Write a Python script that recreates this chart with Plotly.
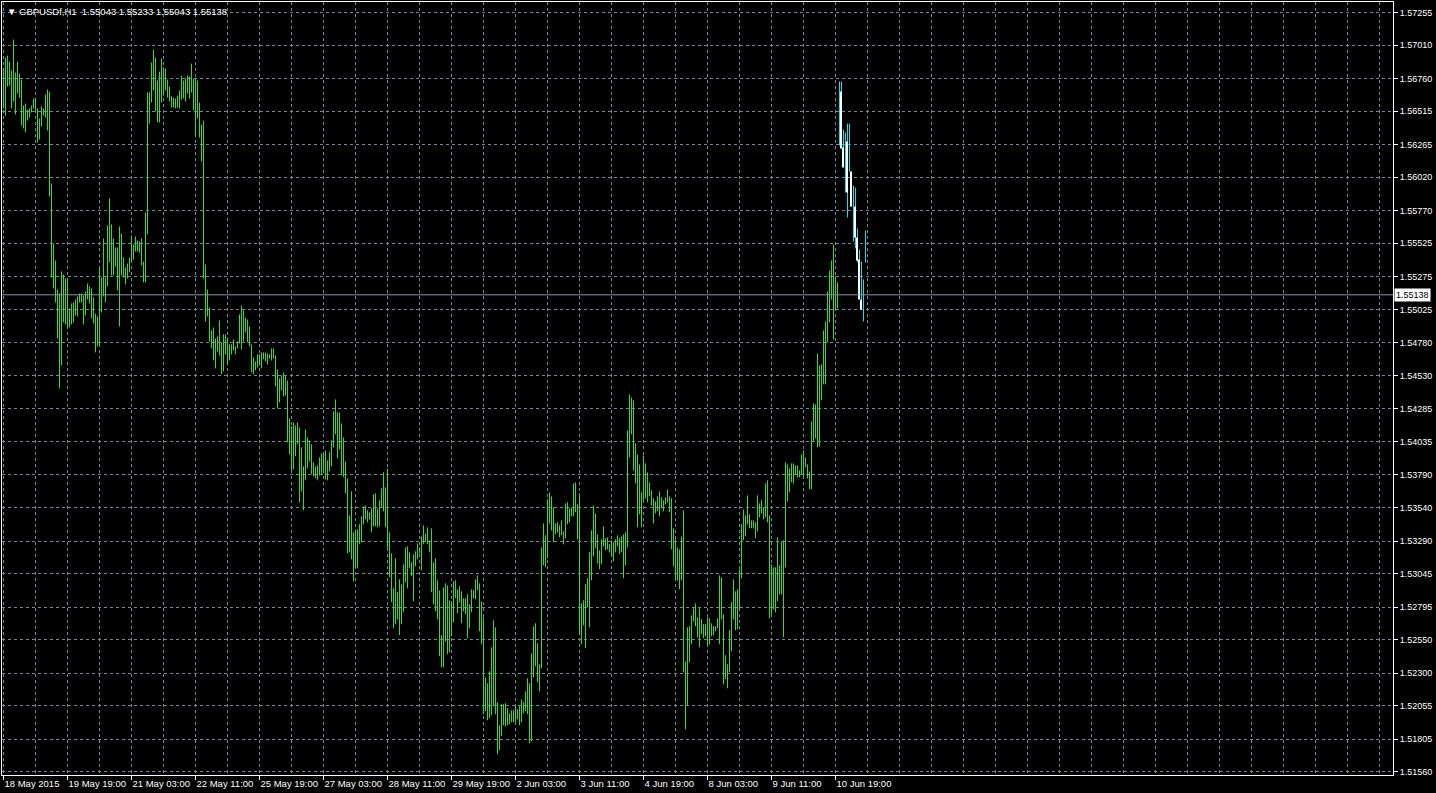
import plotly.graph_objects as go

# ---------------- data (GBPUSDf, H1) ----------------
# hourly bars starting 18 May 2015 11:00 (bar index 0)
highs = [
    1.56836, 1.56918, 1.56933, 1.56888, 1.56821, 1.57053, 1.56806, 1.56888, 1.56798, 1.56753,
    1.56558, 1.56573, 1.56528, 1.56536, 1.56558, 1.56611, 1.56618, 1.56536, 1.56461, 1.56551,
    1.56536, 1.56641, 1.56678, 1.56663, 1.55973, 1.55523, 1.55396, 1.55178, 1.55148, 1.55313,
    1.55291, 1.55261, 1.55261, 1.55036, 1.55073, 1.55081, 1.55103, 1.55126, 1.55148, 1.55148,
    1.55133, 1.55163, 1.55223, 1.55201, 1.55186, 1.55118, 1.54998, 1.54976, 1.55336, 1.55268,
    1.55561, 1.55268, 1.55658, 1.55861, 1.55666, 1.55561, 1.55493, 1.55493, 1.55651, 1.55598,
    1.55418, 1.55343, 1.55373, 1.55418, 1.55583, 1.55516, 1.55576, 1.55546, 1.55538, 1.55561,
    1.55388, 1.55756, 1.56656, 1.56656, 1.56881, 1.56978, 1.56918, 1.56746, 1.56813, 1.56911,
    1.56843, 1.56836, 1.56753, 1.56701, 1.56626, 1.56618, 1.56611, 1.56633, 1.56671, 1.56783,
    1.56746, 1.56761, 1.56783, 1.56776, 1.56873, 1.56761, 1.56761, 1.56746, 1.56581, 1.56416,
    1.56446, 1.55366, 1.55178, 1.55043, 1.54871, 1.54893, 1.54811, 1.54826, 1.54946, 1.54781,
    1.54841, 1.54841, 1.54818, 1.54766, 1.54766, 1.54803, 1.54751, 1.54788, 1.54991, 1.55058,
    1.55021, 1.54968, 1.54953, 1.54901, 1.54766, 1.54668, 1.54638, 1.54691, 1.54691, 1.54706,
    1.54706, 1.54706, 1.54698, 1.54691, 1.54736, 1.54736, 1.54683, 1.54578, 1.54511, 1.54533,
    1.54556, 1.54533, 1.54496, 1.54211, 1.54151, 1.54181, 1.54158, 1.54181, 1.54143, 1.53993,
    1.53851, 1.54128, 1.54068, 1.54046, 1.54016, 1.53881, 1.53851, 1.53858, 1.53918, 1.53948,
    1.53941, 1.53971, 1.53896, 1.53956, 1.54046, 1.54263, 1.54353, 1.54256, 1.54256, 1.54173,
    1.54068, 1.53888, 1.53761, 1.53483, 1.53663, 1.53356, 1.53378, 1.53378, 1.53416, 1.53476,
    1.53551, 1.53558, 1.53521, 1.53506, 1.53536, 1.53641, 1.53648, 1.53536, 1.53596, 1.53686,
    1.53806, 1.53693, 1.53836, 1.53356, 1.53198, 1.52936, 1.53161, 1.52906, 1.53003, 1.52966,
    1.53116, 1.53243, 1.53251, 1.53206, 1.53131, 1.53191, 1.53213, 1.53273, 1.53243, 1.53326,
    1.53408, 1.53348, 1.53393, 1.53296, 1.53386, 1.53131, 1.53161, 1.52996, 1.52921, 1.52583,
    1.52943, 1.52973, 1.52958, 1.52846, 1.52838, 1.52988, 1.52996, 1.52928, 1.52951, 1.52913,
    1.52861, 1.52861, 1.52891, 1.52816, 1.52928, 1.52921, 1.53003, 1.53033, 1.52973, 1.52838,
    1.52718, 1.52268, 1.52223, 1.52313, 1.52493, 1.52696, 1.52643, 1.52081, 1.51908, 1.52066,
    1.52066, 1.52073, 1.52036, 1.51998, 1.52021, 1.52021, 1.52051, 1.52028, 1.52051, 1.52103,
    1.52081, 1.52163, 1.52261, 1.52223, 1.52448, 1.52651, 1.52673, 1.52523, 1.52366, 1.53243,
    1.53423, 1.53333, 1.53603, 1.53656, 1.53626, 1.53543, 1.53423, 1.53431, 1.53408, 1.53446,
    1.53363, 1.53573, 1.53581, 1.53536, 1.53543, 1.53723, 1.53731, 1.53566, 1.53648, 1.52823,
    1.52846, 1.52966, 1.53011, 1.53206, 1.53371, 1.53558, 1.53498, 1.53341, 1.53221, 1.53303,
    1.53401, 1.53311, 1.53318, 1.53266, 1.53296, 1.53281, 1.53303, 1.53333, 1.53311, 1.53326,
    1.53341, 1.53356, 1.54121, 1.54391, 1.54368, 1.54346, 1.54023, 1.53941, 1.53866, 1.53656,
    1.53933, 1.53873, 1.53806, 1.53731, 1.53671, 1.53611, 1.53588, 1.53626, 1.53663, 1.53618,
    1.53596, 1.53618, 1.53678, 1.53626, 1.53611, 1.53386, 1.53303, 1.53243, 1.53228, 1.53326,
    1.53521, 1.52388, 1.52643, 1.52651, 1.52733, 1.52786, 1.52823, 1.52718, 1.52786, 1.52703,
    1.52666, 1.52666, 1.52718, 1.52711, 1.52673, 1.52651, 1.52651, 1.52711, 1.53033, 1.53018,
    1.52741, 1.52433, 1.52366, 1.52621, 1.52831, 1.53003, 1.52913, 1.52928, 1.53078, 1.53416,
    1.53528, 1.53483, 1.53633, 1.53491, 1.53446, 1.53446, 1.53431, 1.53633, 1.53573, 1.53596,
    1.53543, 1.53723, 1.53746, 1.53483, 1.53116, 1.53093, 1.53093, 1.53318, 1.53108, 1.53288,
    1.53296, 1.53881, 1.53866, 1.53836, 1.53873, 1.53873, 1.53858, 1.53858, 1.53821, 1.53941,
    1.53971, 1.53918, 1.53866, 1.53813, 1.54188, 1.54323, 1.54316, 1.54698, 1.54608, 1.54616,
    1.54871, 1.54938, 1.55163, 1.55321, 1.55396, 1.55516, 1.55276, 1.55231,
]

lows = [
    1.56536, 1.56483, 1.56701, 1.56708, 1.56536, 1.56588, 1.56491, 1.56648, 1.56618, 1.56408,
    1.56386, 1.56356, 1.56446, 1.56468, 1.56506, 1.56536, 1.56513, 1.56281, 1.56303, 1.56401,
    1.56483, 1.56468, 1.56371, 1.55876, 1.55268, 1.55186, 1.55081, 1.54811, 1.54436, 1.54608,
    1.54931, 1.54916, 1.54886, 1.54893, 1.54916, 1.54931, 1.54983, 1.54976, 1.55081, 1.55081,
    1.54916, 1.54983, 1.55103, 1.55073, 1.54961, 1.54923, 1.54706, 1.54751, 1.54758, 1.55006,
    1.55126, 1.55081, 1.55201, 1.55381, 1.55283, 1.55283, 1.55351, 1.55171, 1.54901, 1.55283,
    1.55268, 1.55216, 1.55261, 1.55306, 1.55388, 1.55403, 1.55463, 1.55463, 1.55456, 1.55358,
    1.55231, 1.55231, 1.55591, 1.56423, 1.56581, 1.56671, 1.56513, 1.56431, 1.56431, 1.56581,
    1.56633, 1.56671, 1.56618, 1.56588, 1.56543, 1.56543, 1.56536, 1.56543, 1.56536, 1.56603,
    1.56611, 1.56588, 1.56648, 1.56611, 1.56656, 1.56521, 1.56326, 1.56461, 1.56318, 1.56138,
    1.55261, 1.54938, 1.54976, 1.54788, 1.54736, 1.54646, 1.54586, 1.54713, 1.54683, 1.54541,
    1.54563, 1.54691, 1.54616, 1.54646, 1.54691, 1.54721, 1.54691, 1.54736, 1.54773, 1.54728,
    1.54788, 1.54856, 1.54781, 1.54751, 1.54556, 1.54541, 1.54571, 1.54593, 1.54608, 1.54586,
    1.54653, 1.54638, 1.54616, 1.54661, 1.54646, 1.54661, 1.54451, 1.54286, 1.54331, 1.54421,
    1.54376, 1.54383, 1.54031, 1.53941, 1.53813, 1.53828, 1.53926, 1.54016, 1.53581, 1.53663,
    1.53521, 1.53746, 1.53836, 1.53888, 1.53791, 1.53776, 1.53761, 1.53746, 1.53783, 1.53791,
    1.53798, 1.53753, 1.53746, 1.53813, 1.53851, 1.53993, 1.54091, 1.53911, 1.53978, 1.53783,
    1.53768, 1.53648, 1.53198, 1.53206, 1.53153, 1.52988, 1.53093, 1.53086, 1.53266, 1.53281,
    1.53416, 1.53453, 1.53431, 1.53453, 1.53356, 1.53401, 1.53401, 1.53393, 1.53401, 1.53543,
    1.53513, 1.53393, 1.53228, 1.53018, 1.52831, 1.52636, 1.52666, 1.52703, 1.52583, 1.52666,
    1.52756, 1.52981, 1.52936, 1.53086, 1.53026, 1.52838, 1.53101, 1.53153, 1.53198, 1.53071,
    1.53266, 1.53281, 1.53266, 1.53206, 1.52906, 1.52816, 1.52763, 1.52703, 1.52426, 1.52343,
    1.52343, 1.52538, 1.52441, 1.52456, 1.52576, 1.52681, 1.52861, 1.52748, 1.52831, 1.52673,
    1.52763, 1.52741, 1.52561, 1.52636, 1.52756, 1.52861, 1.52853, 1.52921, 1.52613, 1.52516,
    1.51991, 1.52013, 1.51946, 1.51961, 1.51983, 1.52051, 1.51991, 1.51691, 1.51721, 1.51826,
    1.51908, 1.51901, 1.51908, 1.51916, 1.51931, 1.51931, 1.51931, 1.51953, 1.51908, 1.51931,
    1.51998, 1.52013, 1.51991, 1.51773, 1.51788, 1.52268, 1.52351, 1.52231, 1.52163, 1.52336,
    1.53108, 1.53093, 1.53161, 1.53423, 1.53371, 1.53281, 1.53341, 1.53356, 1.53318, 1.53333,
    1.53266, 1.53311, 1.53416, 1.53431, 1.53476, 1.53476, 1.53506, 1.53303, 1.52591, 1.52516,
    1.52658, 1.52486, 1.52793, 1.52643, 1.52996, 1.53176, 1.53236, 1.53123, 1.53078, 1.53116,
    1.53251, 1.53221, 1.53228, 1.53206, 1.53176, 1.53138, 1.53206, 1.53251, 1.53191, 1.53206,
    1.53011, 1.53108, 1.53243, 1.53918, 1.54091, 1.53821, 1.53723, 1.53393, 1.53491, 1.53393,
    1.53596, 1.53611, 1.53581, 1.53626, 1.53558, 1.53423, 1.53498, 1.53513, 1.53476, 1.53536,
    1.53513, 1.53566, 1.53581, 1.53506, 1.53228, 1.53101, 1.52996, 1.52996, 1.52928, 1.52996,
    1.52306, 1.51878, 1.52058, 1.52381, 1.52516, 1.52688, 1.52651, 1.52568, 1.52493, 1.52591,
    1.52561, 1.52576, 1.52508, 1.52516, 1.52576, 1.52583, 1.52613, 1.52636, 1.52516, 1.52703,
    1.52216, 1.52253, 1.52186, 1.52306, 1.52463, 1.52703, 1.52621, 1.52628, 1.52771, 1.53011,
    1.53296, 1.53326, 1.53416, 1.53386, 1.53386, 1.53386, 1.53311, 1.53363, 1.53468, 1.53498,
    1.53453, 1.53468, 1.53431, 1.52711, 1.52741, 1.52778, 1.52756, 1.52838, 1.52891, 1.52891,
    1.52568, 1.53093, 1.53588, 1.53656, 1.53731, 1.53723, 1.53791, 1.53768, 1.53768, 1.53791,
    1.53776, 1.53843, 1.53761, 1.53678, 1.53678, 1.54038, 1.54061, 1.53993, 1.54001, 1.54346,
    1.54466, 1.54466, 1.54781, 1.54931, 1.55103, 1.54803, 1.55028, 1.55036,
]

# last bars (drawn highlighted: cyan range + white body)
tail_highs = [1.56738, 1.56738, 1.56378, 1.56356, 1.56423, 1.56423, 1.56063,
              1.55958, 1.55943, 1.55636, 1.55478, 1.55388, 1.55253, 1.55621]
tail_lows = [1.56258, 1.56243, 1.56101, 1.55906, 1.55718, 1.56063, 1.55801,
             1.55538, 1.55486, 1.55381, 1.55253, 1.55081, 1.54938, 1.55381]
tail_open = [1.56663, 1.56243, None, 1.56288, None, 1.56063, None,
             1.55801, 1.55568, 1.55403, 1.55103, None, None, None]
tail_close = [1.56236, 1.56093, None, 1.55906, None, 1.55801, None,
              1.55568, 1.55396, 1.55103, 1.55028, None, None, None]

last_bar_ohlc = [1.55043, 1.55233, 1.55043, 1.55138]
symbol = "GBPUSDf,H1"

time_tick_bars = [0, 32, 64, 96, 128, 160, 192, 224, 256, 288, 320, 352, 384, 416]
time_tick_labels = ["18 May 2015", "19 May 19:00", "21 May 03:00", "22 May 11:00",
                    "25 May 19:00", "27 May 03:00", "28 May 11:00", "29 May 19:00",
                    "2 Jun 03:00", "3 Jun 11:00", "4 Jun 19:00", "8 Jun 03:00",
                    "9 Jun 11:00", "10 Jun 19:00"]
price_tick_labels = ["1.57255", "1.57010", "1.56760", "1.56515", "1.56265", "1.56020",
                     "1.55770", "1.55525", "1.55275", "1.55025", "1.54780", "1.54530",
                     "1.54285", "1.54035", "1.53790", "1.53540", "1.53290", "1.53045",
                     "1.52795", "1.52550", "1.52300", "1.52055", "1.51805", "1.51560"]

# ---------------- styling ----------------
GREEN = "#32dc32"
CYAN = "#1edcec"
GRID = "#778899"
FONT = "Liberation Sans"

# ---------------- build traces ----------------
gx, gy = [], []
for i, (h, l) in enumerate(zip(highs, lows)):
    gx += [i, i, None]
    gy += [l, h, None]

n0 = len(highs)
cx, cy, wx, wy = [], [], [], []
for j, (h, l, o, c) in enumerate(zip(tail_highs, tail_lows, tail_open, tail_close)):
    i = n0 + j
    cx += [i, i, None]
    cy += [l, h, None]
    if o is not None:
        wx += [i + 0.75, i + 0.75, None]
        wy += [o, c, None]

fig = go.Figure()
fig.add_trace(go.Scatter(x=gx, y=gy, mode="lines", line=dict(color=GREEN, width=1),
                         hoverinfo="skip", connectgaps=False))
fig.add_trace(go.Scatter(x=cx, y=cy, mode="lines", line=dict(color=CYAN, width=1),
                         hoverinfo="skip", connectgaps=False))
fig.add_trace(go.Scatter(x=wx, y=wy, mode="lines", line=dict(color="white", width=2),
                         hoverinfo="skip", connectgaps=False))

last_close = last_bar_ohlc[3]
fig.add_shape(type="line", xref="paper", x0=0, x1=1, yref="y", y0=last_close, y1=last_close,
              line=dict(color="#8a97a5", width=1))

fig.add_annotation(xref="paper", x=1, yref="y", y=last_close, text=f"{last_close:.5f}",
                   showarrow=False, xanchor="left", xshift=1, bgcolor="white",
                   font=dict(color="black", size=9, family=FONT), borderpad=1)

fig.add_annotation(xref="paper", yref="paper", x=0, y=1, xanchor="left", yanchor="top",
                   xshift=3, yshift=-2, showarrow=False,
                   text="▼ " + symbol + "  " + " ".join(f"{v:.5f}" for v in last_bar_ohlc),
                   font=dict(color="white", size=9.5, family=FONT))

fig.update_layout(
    width=1436, height=793,
    margin=dict(l=2, r=43, t=2, b=18),
    paper_bgcolor="black", plot_bgcolor="black",
    showlegend=False,
    font=dict(family=FONT, color="white", size=9),
    xaxis=dict(
        range=[-0.75, 694.75], tickmode="array", tickvals=time_tick_bars,
        ticktext=time_tick_labels, ticks="outside", ticklen=4, tickcolor="white",
        ticklabelposition="outside right", tickangle=0,
        tickfont=dict(size=9.5, color="white"),
        showgrid=True, gridcolor=GRID, griddash="3px,3px", gridwidth=1,
        minor=dict(tickmode="linear", tick0=0, dtick=16, showgrid=True,
                   gridcolor=GRID, griddash="3px,3px", gridwidth=1, ticks=""),
        showline=True, linecolor="white", linewidth=1, mirror=True, zeroline=False,
    ),
    yaxis=dict(
        range=[1.51535, 1.57335], side="right", tickmode="array",
        tickvals=[float(t) for t in price_tick_labels], ticktext=price_tick_labels,
        ticks="outside", ticklen=4, tickcolor="white",
        tickfont=dict(size=9, color="white"),
        showgrid=True, gridcolor=GRID, griddash="3px,3px", gridwidth=1,
        showline=True, linecolor="white", linewidth=1, mirror=True, zeroline=False,
    ),
)

fig.write_html("out.html",
               config={"displayModeBar": False},
               post_script="document.body.style.margin='0px';"
                           "document.body.style.overflow='hidden';")
